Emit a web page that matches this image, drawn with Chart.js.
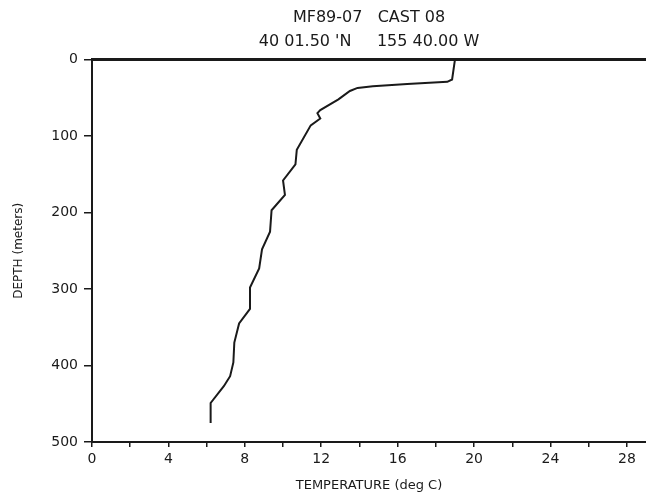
<!DOCTYPE html>
<html>
<head>
<meta charset="utf-8">
<script src="https://cdn.jsdelivr.net/npm/chart.js@4/dist/chart.umd.min.js"></script>
<style>
  html, body { margin: 0; padding: 0; background: #fff; }
  #wrap { width: 646px; height: 497px; }
</style>
</head>
<body>
<div id="wrap"><canvas id="profile"></canvas></div>
<script>
// temperature profile
const depths = [0, 26, 29, 32, 35, 37, 41, 52, 66, 70, 77, 86, 118, 137, 158, 177, 197, 225, 248, 273, 298, 326, 345, 370, 396, 414, 427, 449, 475];
const temps = [19.0, 18.85, 18.6, 16.5, 14.7, 13.9, 13.5, 12.9, 11.95, 11.8, 11.95, 11.45, 10.72, 10.65, 10.0, 10.1, 9.4, 9.32, 8.9, 8.75, 8.27, 8.27, 7.7, 7.45, 7.4, 7.23, 6.9, 6.21, 6.21];
const titleLines = ["MF89-07   CAST 08", "40 01.50 'N     155 40.00 W"];
const xLabel = "TEMPERATURE (deg C)";
const yLabel = "DEPTH (meters)";

const points = depths.map((d, i) => ({ x: temps[i], y: d }));
const ink = "#1a1a1a";
const fontFam = "'DejaVu Sans', sans-serif";

const ctx = document.getElementById("profile").getContext("2d");

const profile = new Chart(ctx, {
    type: "scatter",
    data: {
        datasets: [{
            data: points,
            showLine: true,
            borderColor: ink,
            borderWidth: 2,
            pointRadius: 0,
            tension: 0,
        }],
    },
    options: {
        responsive: true,
        maintainAspectRatio: false,
        animation: false,
        layout: { padding: 0 },
        plugins: {
            legend: { display: false },
            tooltip: { enabled: false },
            title: {
                display: true,
                text: titleLines,
                fullSize: false,
                color: ink,
                font: { family: fontFam, size: 16, weight: "normal", lineHeight: 1.55 },
                padding: { top: 5, bottom: 5 },
            },
        },
        scales: {
            x: {
                type: "linear",
                position: "bottom",
                min: 0,
                max: 29,
                border: { color: ink, width: 2 },
                grid: { drawOnChartArea: false, color: ink, tickLength: 5, lineWidth: 1.5 },
                ticks: {
                    stepSize: 2,
                    autoSkip: false,
                    includeBounds: false,
                    maxRotation: 0,
                    color: ink,
                    padding: 4,
                    font: { family: fontFam, size: 14 },
                    callback: (v) => (v % 4 === 0 ? v : ""),
                },
                title: {
                    display: true,
                    text: xLabel,
                    color: ink,
                    font: { family: fontFam, size: 13 },
                    padding: { top: 2, bottom: 4 },
                },
                afterFit: (s) => { s.height = 55; },
            },
            xTop: {
                type: "linear",
                position: "top",
                min: 0,
                max: 29,
                border: { color: ink, width: 3 },
                grid: { display: false },
                ticks: { display: false },
                afterFit: (s) => { s.height = 0; },
            },
            y: {
                type: "linear",
                reverse: true,
                min: 0,
                max: 500,
                border: { color: ink, width: 2 },
                grid: { drawOnChartArea: false, color: ink, tickLength: 8, lineWidth: 1.5 },
                ticks: {
                    stepSize: 100,
                    color: ink,
                    padding: 6,
                    font: { family: fontFam, size: 14 },
                },
                title: {
                    display: true,
                    text: yLabel,
                    color: ink,
                    font: { family: fontFam, size: 12 },
                    padding: { top: 12, bottom: 0 },
                },
                afterFit: (s) => { s.width = 92; },
            },
        },
    },
});
</script>
</body>
</html>
